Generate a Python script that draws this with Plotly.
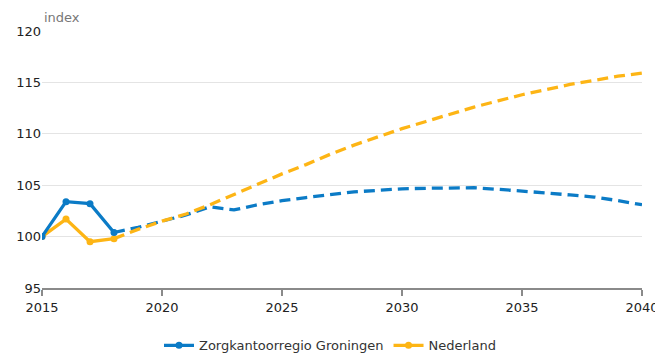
import plotly.graph_objects as go

years_hist = [2015, 2016, 2017, 2018]
groningen_hist = [100.0, 103.4, 103.2, 100.4]
nederland_hist = [100.0, 101.7, 99.5, 99.8]

years_proj = list(range(2018, 2041))
groningen_proj = [100.4, 100.9, 101.5, 102.1, 102.9, 102.6, 103.1, 103.5, 103.8, 104.1,
                  104.35, 104.5, 104.65, 104.7, 104.75, 104.75, 104.6, 104.45, 104.25,
                  104.05, 103.85, 103.5, 103.1]
nederland_proj = [99.8, 100.7, 101.5, 102.2, 103.1, 104.1, 105.1, 106.1, 107.0, 108.0,
                  108.9, 109.7, 110.5, 111.2, 111.9, 112.6, 113.2, 113.8, 114.3,
                  114.8, 115.2, 115.6, 115.9]

BLUE = "#0b7bc6"
ORANGE = "#fdb515"
FONT = "DejaVu Sans"

fig = go.Figure()
fig.add_trace(go.Scatter(x=years_proj, y=groningen_proj, mode="lines",
                         line=dict(color=BLUE, width=3.3, dash="11px,6px"),
                         showlegend=False))
fig.add_trace(go.Scatter(x=years_proj, y=nederland_proj, mode="lines",
                         line=dict(color=ORANGE, width=3.3, dash="11px,6px"),
                         showlegend=False))
fig.add_trace(go.Scatter(x=years_hist, y=nederland_hist, mode="lines+markers",
                         name="Nederland",
                         line=dict(color=ORANGE, width=3.3),
                         marker=dict(color=ORANGE, size=7), legendrank=2))
fig.add_trace(go.Scatter(x=years_hist, y=groningen_hist, mode="lines+markers",
                         name="Zorgkantoorregio Groningen",
                         line=dict(color=BLUE, width=3.3),
                         marker=dict(color=BLUE, size=7), legendrank=1))

# page body has an 8px default margin, so the figure is sized/offset to compensate
fig.update_layout(
    width=655, height=346,
    margin=dict(l=34, r=21, t=23, b=66, autoexpand=False),
    paper_bgcolor="white", plot_bgcolor="white",
    font=dict(family=FONT, size=13, color="#222222"),
    showlegend=True,
    legend=dict(orientation="h", x=0.48, xanchor="center", y=-0.165, yanchor="top",
                font=dict(family=FONT, size=13, color="#333333"),
                itemwidth=30, tracegroupgap=0),
    xaxis=dict(range=[2015, 2040], tickvals=[2015, 2020, 2025, 2030, 2035, 2040],
               showgrid=False, zeroline=False, showline=True, linecolor="#8a8a8a",
               linewidth=2, ticks="outside", tickcolor="#8a8a8a", ticklen=6,
               tickwidth=2, tickfont=dict(size=13, color="#222222"), automargin=False),
    yaxis=dict(range=[95, 120], tickvals=[95, 100, 105, 110, 115, 120],
               showgrid=True, gridcolor="#e4e4e4", gridwidth=1, zeroline=False,
               showline=False, ticks="", tickfont=dict(size=13, color="#222222"),
               automargin=False),
    annotations=[dict(text="index", xref="paper", yref="paper", x=0, y=1,
                      xanchor="left", yanchor="bottom", yshift=4, showarrow=False,
                      font=dict(family=FONT, size=13, color="#777777"))],
)

fig.write_html("out.html")
